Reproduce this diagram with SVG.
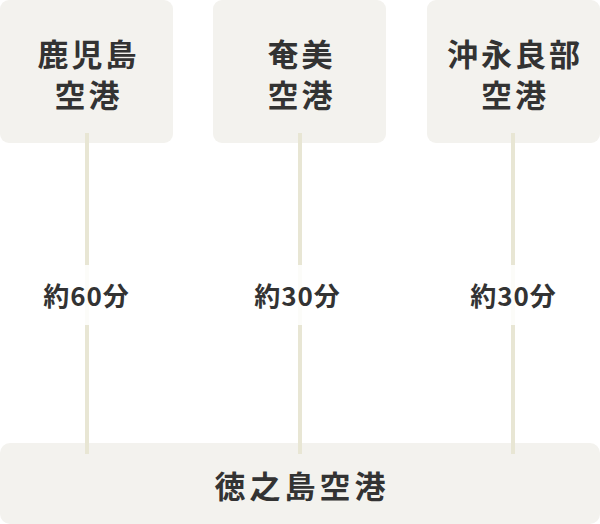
<svg xmlns="http://www.w3.org/2000/svg" width="600" height="524" viewBox="0 0 600 524">
<style>
.box{fill:#f3f2ee}
.t{font-family:"Noto Sans CJK JP","Noto Sans",sans-serif;font-weight:bold;fill:#333;text-anchor:middle;dominant-baseline:central}
.big{font-size:31px;letter-spacing:3px}
.lab{font-size:26px;letter-spacing:1px}
.ln{stroke:#e8e6d4;stroke-width:4}
.lbg{fill:#fff;opacity:0.85}
</style>
<rect width="600" height="524" fill="#fff"/>
<g id="n1"><rect class="box" x="0" y="0" width="173" height="143" rx="9"/>
<text class="t big" x="88.5" y="52">鹿児島</text><text class="t big" x="88.5" y="93">空港</text></g>
<g id="n2"><rect class="box" x="213" y="0" width="173" height="143" rx="9"/>
<text class="t big" x="301.5" y="52">奄美</text><text class="t big" x="301.5" y="93">空港</text></g>
<g id="n3"><rect class="box" x="427" y="0" width="173" height="143" rx="9"/>
<text class="t big" x="515" y="52">沖永良部</text><text class="t big" x="515" y="93">空港</text></g>
<g id="n4"><rect class="box" x="0" y="443" width="600" height="81" rx="10"/>
<text class="t big" x="302" y="484" style="letter-spacing:4px">徳之島空港</text></g>
<g id="connectors">
<line class="ln" x1="87" y1="133" x2="87" y2="454"/>
<line class="ln" x1="300" y1="133" x2="300" y2="454"/>
<line class="ln" x1="513" y1="133" x2="513" y2="454"/>
<rect class="lbg" x="30" y="265" width="114" height="60"/>
<rect class="lbg" x="243" y="265" width="114" height="60"/>
<rect class="lbg" x="456" y="265" width="114" height="60"/>
<text class="t lab" x="86.5" y="294">約60分</text>
<text class="t lab" x="297.5" y="294">約30分</text>
<text class="t lab" x="513.5" y="294">約30分</text>
</g>
</svg>
